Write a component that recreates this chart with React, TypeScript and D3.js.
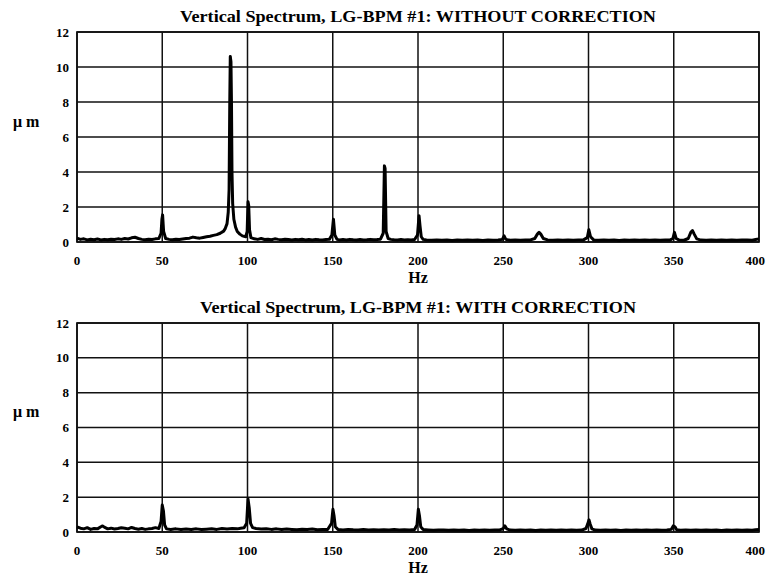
import React from "react";
import * as d3 from "d3";

const xTicks = [0, 50, 100, 150, 200, 250, 300, 350, 400];
const yTicks = [0, 2, 4, 6, 8, 10, 12];

const titleTop = "Vertical Spectrum, LG-BPM #1: WITHOUT CORRECTION";
const titleBottom = "Vertical Spectrum, LG-BPM #1: WITH CORRECTION";
const xLabel = "Hz";
const yLabel = "\u03bc m";

// [Hz, µm]
const withoutCorrection: [number, number][] = [
  [0, 0.22], [2, 0.15], [4, 0.18], [6, 0.12], [8, 0.16], [10, 0.13], [12, 0.17], [14, 0.12], [16, 0.15], [18, 0.13],
  [20, 0.16], [22, 0.14], [24, 0.18], [26, 0.15], [28, 0.2], [30, 0.17], [32, 0.24], [34, 0.27], [36, 0.2], [38, 0.15],
  [40, 0.13], [42, 0.16], [44, 0.14], [46, 0.18], [48, 0.2], [49.3, 0.5], [49.8, 1.3], [50.2, 1.55], [50.8, 0.6], [52, 0.2], [54, 0.15],
  [56, 0.13], [58, 0.16], [60, 0.14], [62, 0.17], [64, 0.2], [66, 0.22], [68, 0.28], [70, 0.24], [72, 0.22], [74, 0.26],
  [76, 0.3], [78, 0.33], [80, 0.38], [82, 0.42], [84, 0.5], [86, 0.62], [87, 0.78], [88, 1.05], [88.7, 1.7], [89.2, 3],
  [89.6, 8], [89.9, 10.6], [90.3, 10.3], [90.6, 8], [90.9, 4], [91.3, 2.2], [92, 1.3], [93, 0.85], [94, 0.6], [95.5, 0.45], [97, 0.35],
  [99, 0.3], [99.8, 0.6], [100.3, 2.3], [100.7, 2.1], [101.2, 0.7], [102, 0.25], [104, 0.18], [106, 0.15], [108, 0.2], [110, 0.14], [112, 0.16],
  [114, 0.13], [116, 0.18], [118, 0.15], [120, 0.13], [122, 0.16], [124, 0.14], [126, 0.12], [128, 0.15], [130, 0.13], [132, 0.16],
  [134, 0.12], [136, 0.14], [138, 0.12], [140, 0.15], [142, 0.13], [144, 0.12], [146, 0.14], [148, 0.15], [149.5, 0.4], [150.4, 1.3],
  [151.2, 0.4], [152.5, 0.15], [154, 0.12], [156, 0.14], [158, 0.12], [160, 0.15], [162, 0.13], [164, 0.12], [166, 0.14], [168, 0.12],
  [170, 0.13], [172, 0.15], [174, 0.13], [176, 0.14], [178, 0.16], [179.6, 0.5], [180.3, 4.35], [180.7, 4.2], [181.3, 0.6], [182.5, 0.2], [184, 0.15],
  [186, 0.13], [188, 0.12], [190, 0.14], [192, 0.12], [194, 0.13], [196, 0.11], [198, 0.14], [199.7, 0.4], [200.6, 1.5], [201.2, 0.9],
  [201.9, 0.3], [203, 0.15], [205, 0.12], [208, 0.1], [211, 0.12], [214, 0.1], [217, 0.11], [220, 0.09], [223, 0.11], [226, 0.1],
  [229, 0.12], [232, 0.1], [235, 0.11], [238, 0.09], [241, 0.11], [244, 0.1], [247, 0.12], [249.5, 0.15], [250.5, 0.35], [251.5, 0.15],
  [254, 0.1], [257, 0.12], [260, 0.1], [263, 0.11], [266, 0.12], [268.5, 0.2], [270, 0.45], [271, 0.55], [272, 0.45], [273.5, 0.2],
  [276, 0.12], [279, 0.1], [282, 0.11], [285, 0.1], [288, 0.12], [291, 0.1], [294, 0.11], [297, 0.12], [299.3, 0.25], [300.2, 0.7],
  [301.2, 0.3], [303, 0.12], [306, 0.1], [309, 0.12], [312, 0.1], [315, 0.11], [318, 0.09], [321, 0.11], [324, 0.1], [327, 0.12],
  [330, 0.1], [333, 0.11], [336, 0.1], [339, 0.12], [342, 0.1], [345, 0.11], [348, 0.12], [349.5, 0.2], [350.4, 0.55], [351.4, 0.2],
  [353, 0.12], [356, 0.1], [358.5, 0.2], [360, 0.55], [361, 0.65], [362, 0.45], [363.5, 0.18], [366, 0.11], [369, 0.1], [372, 0.12],
  [375, 0.1], [378, 0.11], [381, 0.1], [384, 0.12], [387, 0.1], [390, 0.11], [393, 0.12], [396, 0.1], [398, 0.14], [400, 0.18],
];

const withCorrection: [number, number][] = [
  [0, 0.3], [2, 0.22], [4, 0.18], [6, 0.25], [8, 0.15], [10, 0.2], [12, 0.18], [14, 0.3], [15, 0.35], [16, 0.28],
  [18, 0.18], [20, 0.22], [22, 0.17], [24, 0.2], [26, 0.24], [28, 0.22], [30, 0.18], [32, 0.26], [34, 0.2], [36, 0.16],
  [38, 0.2], [40, 0.15], [42, 0.18], [44, 0.2], [46, 0.25], [48, 0.2], [49.3, 0.6], [50, 1.55], [50.7, 1.2], [51.4, 0.4],
  [52.5, 0.18], [55, 0.15], [58, 0.18], [61, 0.14], [64, 0.17], [67, 0.15], [70, 0.18], [73, 0.14], [76, 0.16], [79, 0.18],
  [82, 0.15], [85, 0.2], [88, 0.17], [91, 0.2], [94, 0.18], [96, 0.22], [98, 0.25], [99.5, 0.5], [100.3, 1.9], [101, 1.4],
  [101.8, 0.5], [103, 0.25], [105, 0.2], [108, 0.17], [111, 0.19], [114, 0.15], [117, 0.18], [120, 0.14], [123, 0.17], [126, 0.15],
  [129, 0.13], [132, 0.16], [135, 0.14], [138, 0.17], [141, 0.13], [144, 0.15], [147, 0.14], [149.3, 0.5], [150.1, 1.3], [150.8, 0.9],
  [151.5, 0.3], [153, 0.15], [156, 0.12], [159, 0.15], [162, 0.13], [165, 0.12], [168, 0.14], [171, 0.12], [174, 0.13], [177, 0.11],
  [180, 0.13], [183, 0.12], [186, 0.14], [189, 0.11], [192, 0.13], [195, 0.12], [198, 0.14], [199.4, 0.4], [200.2, 1.3], [200.9, 0.9],
  [201.6, 0.3], [203, 0.14], [206, 0.12], [209, 0.1], [212, 0.12], [215, 0.11], [218, 0.1], [221, 0.12], [224, 0.1], [227, 0.11],
  [230, 0.09], [233, 0.11], [236, 0.1], [239, 0.12], [242, 0.1], [245, 0.11], [248, 0.12], [250, 0.2], [251, 0.35], [252, 0.18],
  [254, 0.11], [257, 0.1], [260, 0.12], [263, 0.1], [266, 0.11], [269, 0.09], [272, 0.11], [275, 0.1], [278, 0.12], [281, 0.1],
  [284, 0.11], [287, 0.1], [290, 0.12], [293, 0.1], [296, 0.11], [298.5, 0.2], [299.5, 0.45], [300.3, 0.7], [301, 0.45], [302, 0.18],
  [304, 0.11], [307, 0.1], [310, 0.12], [313, 0.1], [316, 0.11], [319, 0.09], [322, 0.11], [325, 0.1], [328, 0.12], [331, 0.1],
  [334, 0.11], [337, 0.1], [340, 0.12], [343, 0.1], [346, 0.11], [348.5, 0.15], [349.7, 0.35], [350.7, 0.3], [351.7, 0.13], [354, 0.1],
  [357, 0.12], [360, 0.1], [363, 0.11], [366, 0.1], [369, 0.12], [372, 0.1], [375, 0.11], [378, 0.09], [381, 0.11], [384, 0.1],
  [387, 0.12], [390, 0.1], [393, 0.11], [396, 0.1], [398, 0.13], [400, 0.15],
];

const FONT = "'Liberation Serif', 'Times New Roman', serif";

type PanelProps = {
  data: [number, number][];
  title: string;
  titleWidth: number;
  top: number;
  bottom: number;
  titleY: number;
};

const LEFT = 77;
const RIGHT = 759;

function Panel({ data, title, titleWidth, top, bottom, titleY }: PanelProps) {
  const x = d3.scaleLinear().domain([0, 400]).range([LEFT, RIGHT]);
  const y = d3.scaleLinear().domain([0, 12]).range([bottom, top]);
  const line = d3
    .line<[number, number]>()
    .x((d) => x(d[0]))
    .y((d) => y(d[1]));
  const cx = (LEFT + RIGHT) / 2;
  return (
    <g>
      <text
        x={cx}
        y={titleY}
        textAnchor="middle"
        fontFamily={FONT}
        fontWeight="bold"
        fontSize={17}
        textLength={titleWidth}
        lengthAdjust="spacingAndGlyphs"
      >
        {title}
      </text>
      {yTicks.map((t) => (
        <line key={"gy" + t} x1={LEFT} x2={RIGHT} y1={y(t)} y2={y(t)} stroke="#111" strokeWidth={1.5} />
      ))}
      {xTicks.map((t) => (
        <line key={"gx" + t} x1={x(t)} x2={x(t)} y1={top} y2={bottom} stroke="#111" strokeWidth={1.5} />
      ))}
      <rect x={LEFT} y={top} width={RIGHT - LEFT} height={bottom - top} fill="none" stroke="#111" strokeWidth={1.7} />
      <path d={line(data) || ""} fill="none" stroke="#000" strokeWidth={3} strokeLinejoin="round" />
      {yTicks.map((t) => (
        <text
          key={"ly" + t}
          x={LEFT - 8}
          y={y(t)}
          dy="0.35em"
          textAnchor="end"
          fontFamily={FONT}
          fontWeight="bold"
          fontSize={13}
        >
          {t}
        </text>
      ))}
      {xTicks.map((t) => (
        <text
          key={"lx" + t}
          x={t === 400 ? 765 : x(t)}
          y={bottom + 23}
          textAnchor={t === 400 ? "end" : "middle"}
          fontFamily={FONT}
          fontWeight="bold"
          fontSize={13}
        >
          {t}
        </text>
      ))}
      <text x={cx} y={bottom + 41} textAnchor="middle" fontFamily={FONT} fontWeight="bold" fontSize={16}>
        {xLabel}
      </text>
      <text x={13} y={y(7) + 7} fontFamily={FONT} fontWeight="bold" fontSize={16}>
        {yLabel}
      </text>
    </g>
  );
}

export default function App() {
  return (
    <svg
      width={766}
      height={575}
      style={{ position: "absolute", left: 0, top: 0, background: "#fff" }}
    >
      <rect width={766} height={575} fill="#fff" />
      <Panel data={withoutCorrection} title={titleTop} titleWidth={476} top={32} bottom={242} titleY={22} />
      <Panel data={withCorrection} title={titleBottom} titleWidth={436} top={323} bottom={532} titleY={313} />
    </svg>
  );
}
